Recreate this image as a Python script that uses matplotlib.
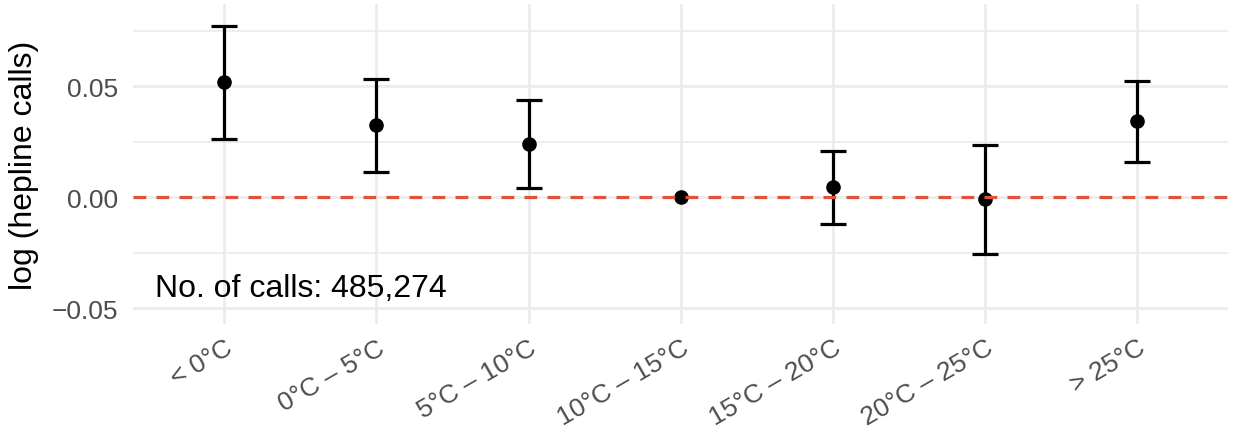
import matplotlib.pyplot as plt
from matplotlib.ticker import MultipleLocator
import numpy as np

plt.rcParams['font.family'] = ['Liberation Sans', 'DejaVu Sans']

categories = ["< 0°C", "0°C – 5°C", "5°C – 10°C", "10°C – 15°C",
              "15°C – 20°C", "20°C – 25°C", "> 25°C"]
estimate = [0.0518, 0.0324, 0.0239, 0.0, 0.0045, -0.0009, 0.0342]
upper = [0.0770, 0.0532, 0.0437, 0.0, 0.0207, 0.0234, 0.0523]
lower = [0.0261, 0.0113, 0.0041, 0.0, -0.0122, -0.0257, 0.0158]
note = "No. of calls: 485,274"

x = np.arange(len(categories))
est = np.array(estimate)
yerr = [est - np.array(lower), np.array(upper) - est]

fig = plt.figure(figsize=(12.33, 4.35), dpi=100)
ax = fig.add_axes([0.108, 0.253, 0.888, 0.735])

# error bars (no bar for the reference category)
has_bar = np.array(upper) != np.array(lower)
ax.errorbar(x[has_bar], est[has_bar],
            yerr=[yerr[0][has_bar], yerr[1][has_bar]],
            fmt='none', ecolor='black', elinewidth=2.3,
            capsize=9.7, capthick=2.3, zorder=3)
ax.plot(x, est, 'o', color='black', markersize=9.5, zorder=4)

ax.axhline(0, color='#E2513B', lw=2.3, dashes=(4, 3.2), zorder=5)

ax.text(0.5, -0.041, note, ha='center', va='center',
        fontsize=23, color='black')

ax.set_xlim(-0.6, 6.6)
ax.set_ylim(-0.057, 0.087)
ax.set_xticks(x)
ax.set_xticklabels(categories, rotation=30, ha='right',
                   rotation_mode='anchor')
ax.yaxis.set_major_locator(MultipleLocator(0.05))
ax.yaxis.set_minor_locator(MultipleLocator(0.025))
ax.set_yticks([-0.05, 0.0, 0.05])
ax.set_yticklabels(["\u22120.05", "0.00", "0.05"])

ax.tick_params(axis='both', which='both', length=0,
               labelsize=19, labelcolor='#4D4D4D')
ax.tick_params(axis='x', pad=8)
ax.tick_params(axis='y', pad=11)

ax.grid(True, which='major', color='#EBEBEB', lw=1.9, zorder=0)
ax.grid(True, which='minor', axis='y', color='#EBEBEB', lw=1.2, zorder=0)
ax.set_axisbelow(True)
for s in ax.spines.values():
    s.set_visible(False)

ax.set_ylabel("log (hepline calls)", fontsize=23, labelpad=9)

fig.savefig("out.png", dpi=100)
